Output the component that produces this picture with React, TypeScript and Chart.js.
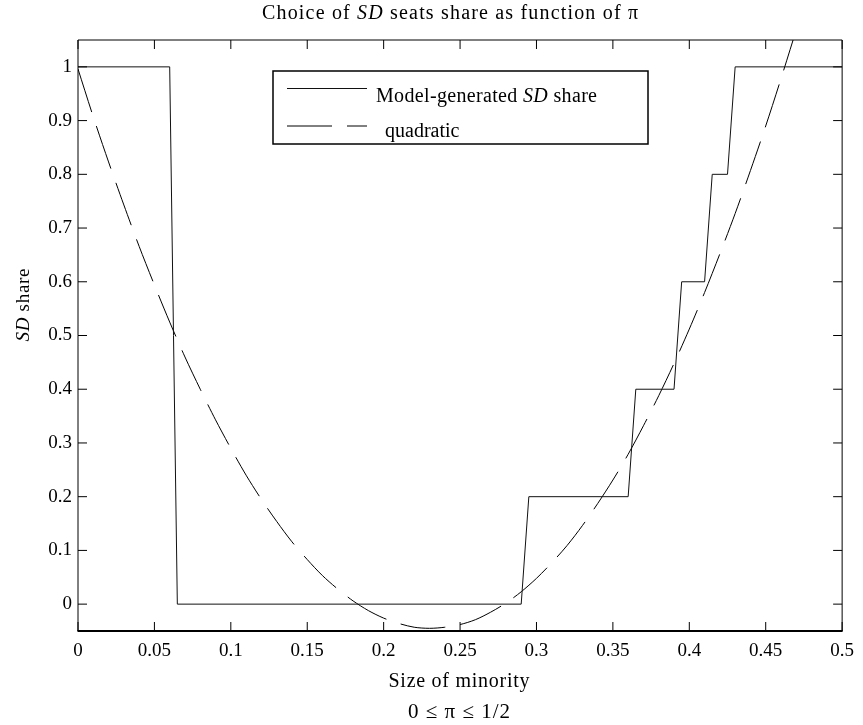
import React, { useEffect, useRef } from 'react';
import { Chart, registerables } from 'chart.js';

Chart.register(...registerables);

const FONT = '"Liberation Serif", "Times New Roman", serif';

// Axis ticks
const xTickValues = [0, 0.05, 0.1, 0.15, 0.2, 0.25, 0.3, 0.35, 0.4, 0.45, 0.5];
const xTickLabels = ['0', '0.05', '0.1', '0.15', '0.2', '0.25', '0.3', '0.35', '0.4', '0.45', '0.5'];
const yTickValues = [0, 0.1, 0.2, 0.3, 0.4, 0.5, 0.6, 0.7, 0.8, 0.9, 1];
const yTickLabels = ['0', '0.1', '0.2', '0.3', '0.4', '0.5', '0.6', '0.7', '0.8', '0.9', '1'];

// Model-generated SD share (step function)
const stepX = [0, 0.06, 0.065, 0.29, 0.295, 0.36, 0.365, 0.39, 0.395, 0.41, 0.415, 0.425, 0.43, 0.5];
const stepY = [1, 1, 0, 0, 0.2, 0.2, 0.4, 0.4, 0.6, 0.6, 0.8, 0.8, 1, 1];

// Quadratic fit
const quadX = [
  0, 0.01, 0.02, 0.03, 0.04, 0.05, 0.06, 0.07, 0.08, 0.09,
  0.1, 0.11, 0.12, 0.13, 0.14, 0.15, 0.16, 0.17, 0.18, 0.19,
  0.2, 0.21, 0.22, 0.23, 0.24, 0.25, 0.26, 0.27, 0.28, 0.29,
  0.3, 0.31, 0.32, 0.33, 0.34, 0.35, 0.36, 0.37, 0.38, 0.39,
  0.4, 0.41, 0.42, 0.43, 0.44, 0.45, 0.46, 0.47,
];
const quadY = [
  0.996, 0.907, 0.823, 0.743, 0.666, 0.594, 0.525, 0.46, 0.4, 0.343,
  0.29, 0.24, 0.195, 0.154, 0.116, 0.083, 0.053, 0.028, 0.006, -0.012,
  -0.026, -0.036, -0.043, -0.045, -0.043, -0.038, -0.029, -0.015, 0.002, 0.023,
  0.048, 0.077, 0.109, 0.146, 0.187, 0.231, 0.279, 0.332, 0.388, 0.448,
  0.512, 0.58, 0.652, 0.727, 0.807, 0.89, 0.978, 1.069,
];

type Part = { t: string; italic?: boolean };

const titleParts: Part[] = [{ t: 'Choice of ' }, { t: 'SD', italic: true }, { t: ' seats share as function of π' }];
const yLabelParts: Part[] = [{ t: 'SD', italic: true }, { t: ' share' }];
const xLabelLine1: Part[] = [{ t: 'Size of minority' }];
const xLabelLine2: Part[] = [{ t: '0 ≤ π ≤ 1/2' }];
const legendLabels: Part[][] = [
  [{ t: 'Model-generated ' }, { t: 'SD', italic: true }, { t: ' share' }],
  [{ t: 'quadratic' }],
];

function drawRich(
  ctx: CanvasRenderingContext2D,
  parts: Part[],
  x: number,
  y: number,
  size: number,
  align: 'left' | 'center',
  targetWidth?: number
) {
  ctx.save();
  (ctx as any).letterSpacing = '0px';
  const fonts = parts.map((p) => `${p.italic ? 'italic ' : ''}${size}px ${FONT}`);
  const widths = parts.map((p, i) => {
    ctx.font = fonts[i];
    return ctx.measureText(p.t).width;
  });
  const natural = widths.reduce((a, b) => a + b, 0);
  const nChars = parts.reduce((a, p) => a + Array.from(p.t).length, 0);
  let spacing = 0;
  if (targetWidth) spacing = (targetWidth - natural) / Math.max(nChars - 1, 1);
  const total = natural + spacing * (nChars - 1);
  let cx = align === 'center' ? x - total / 2 : x;
  ctx.fillStyle = '#000';
  ctx.textAlign = 'left';
  ctx.textBaseline = 'alphabetic';
  (ctx as any).letterSpacing = `${spacing}px`;
  parts.forEach((p, i) => {
    ctx.font = fonts[i];
    ctx.fillText(p.t, cx, y);
    cx += widths[i] + spacing * Array.from(p.t).length;
  });
  ctx.restore();
}

const decorPlugin = {
  id: 'decor',
  beforeDraw(chart: any) {
    (chart.ctx as any).letterSpacing = '0px';
  },
  afterDraw(chart: any) {
    const ctx: CanvasRenderingContext2D = chart.ctx;
    const { left, right, top, bottom } = chart.chartArea;
    const xs = chart.scales.x;
    const ys = chart.scales.y;
    ctx.save();
    ctx.strokeStyle = '#000';
    ctx.lineWidth = 1;
    // frame
    ctx.beginPath();
    ctx.moveTo(left, bottom);
    ctx.lineTo(left, top);
    ctx.lineTo(right, top);
    ctx.lineTo(right, bottom);
    ctx.stroke();
    ctx.lineWidth = 2;
    ctx.beginPath();
    ctx.moveTo(left - 0.5, bottom);
    ctx.lineTo(right + 0.5, bottom);
    ctx.stroke();
    // inward ticks on all four sides
    ctx.lineWidth = 1;
    const tl = 9;
    ctx.beginPath();
    xTickValues.forEach((v) => {
      const px = xs.getPixelForValue(v);
      ctx.moveTo(px, bottom);
      ctx.lineTo(px, bottom - tl);
      ctx.moveTo(px, top);
      ctx.lineTo(px, top + tl);
    });
    yTickValues.forEach((v) => {
      const py = ys.getPixelForValue(v);
      ctx.moveTo(left, py);
      ctx.lineTo(left + tl, py);
      ctx.moveTo(right, py);
      ctx.lineTo(right - tl, py);
    });
    ctx.stroke();

    // legend box
    const lx = 273, ly = 71, lw = 375, lh = 73;
    ctx.fillStyle = '#fff';
    ctx.fillRect(lx, ly, lw, lh);
    ctx.lineWidth = 1.5;
    ctx.strokeRect(lx, ly, lw, lh);
    const rows = [88.5, 126];
    const baselines = [102, 137];
    const textX = [376, 385];
    chart.data.datasets.forEach((ds: any, i: number) => {
      ctx.save();
      ctx.strokeStyle = ds.borderColor;
      ctx.lineWidth = ds.borderWidth;
      ctx.setLineDash(ds.borderDash || []);
      ctx.beginPath();
      ctx.moveTo(287, rows[i]);
      ctx.lineTo(367, rows[i]);
      ctx.stroke();
      ctx.restore();
      drawRich(ctx, legendLabels[i], textX[i], baselines[i], 20, 'left', i === 0 ? 221 : undefined);
    });
    ctx.restore();

    // title
    drawRich(ctx, titleParts, 450, 19, 20, 'center', 376);
    // x axis title (two lines)
    drawRich(ctx, xLabelLine1, 459, 687, 20, 'center', 141);
    drawRich(ctx, xLabelLine2, 459, 718, 21, 'center', 102);
    // y axis title
    ctx.save();
    ctx.translate(29, 305);
    ctx.rotate(-Math.PI / 2);
    drawRich(ctx, yLabelParts, 0, 0, 19, 'center', 73);
    ctx.restore();
  },
};

export default function App() {
  const canvasRef = useRef<HTMLCanvasElement | null>(null);

  useEffect(() => {
    if (!canvasRef.current) return;
    const chart = new Chart(canvasRef.current, {
      type: 'line',
      data: {
        datasets: [
          {
            label: 'Model-generated SD share',
            data: stepX.map((x, i) => ({ x, y: stepY[i] })),
            borderColor: '#111',
            borderWidth: 1,
            pointRadius: 0,
            fill: false,
            tension: 0,
          },
          {
            label: 'quadratic',
            data: quadX.map((x, i) => ({ x, y: quadY[i] })),
            borderColor: '#000',
            borderWidth: 1,
            borderDash: [45, 15],
            pointRadius: 0,
            fill: false,
            tension: 0.3,
          },
        ],
      },
      options: {
        animation: false,
        responsive: true,
        maintainAspectRatio: false,
        layout: { padding: { top: 40, right: 18, left: 0, bottom: 0 } },
        plugins: {
          legend: { display: false },
          title: { display: false },
          tooltip: { enabled: false },
        },
        scales: {
          x: {
            type: 'linear',
            min: 0,
            max: 0.5,
            grid: { display: false, drawTicks: false },
            border: { display: false },
            afterBuildTicks: (s: any) => {
              s.ticks = xTickValues.map((v) => ({ value: v }));
            },
            afterFit: (s: any) => {
              s.height = 94;
            },
            ticks: {
              font: { family: FONT, size: 19 },
              color: '#000',
              padding: 9,
              maxRotation: 0,
              autoSkip: false,
              callback: (_v: any, i: number) => xTickLabels[i],
            },
          },
          y: {
            type: 'linear',
            min: -0.05,
            max: 1.05,
            grid: { display: false, drawTicks: false },
            border: { display: false },
            afterBuildTicks: (s: any) => {
              s.ticks = yTickValues.map((v) => ({ value: v }));
            },
            afterFit: (s: any) => {
              s.width = 78;
            },
            ticks: {
              font: { family: FONT, size: 19 },
              color: '#000',
              padding: 6,
              autoSkip: false,
              callback: (_v: any, i: number) => yTickLabels[i],
            },
          },
        },
      },
      plugins: [decorPlugin],
    });
    return () => chart.destroy();
  }, []);

  return (
    <div style={{ position: 'fixed', left: 0, top: 0, width: 863, height: 725, background: '#fff' }}>
      <canvas ref={canvasRef} />
    </div>
  );
}
